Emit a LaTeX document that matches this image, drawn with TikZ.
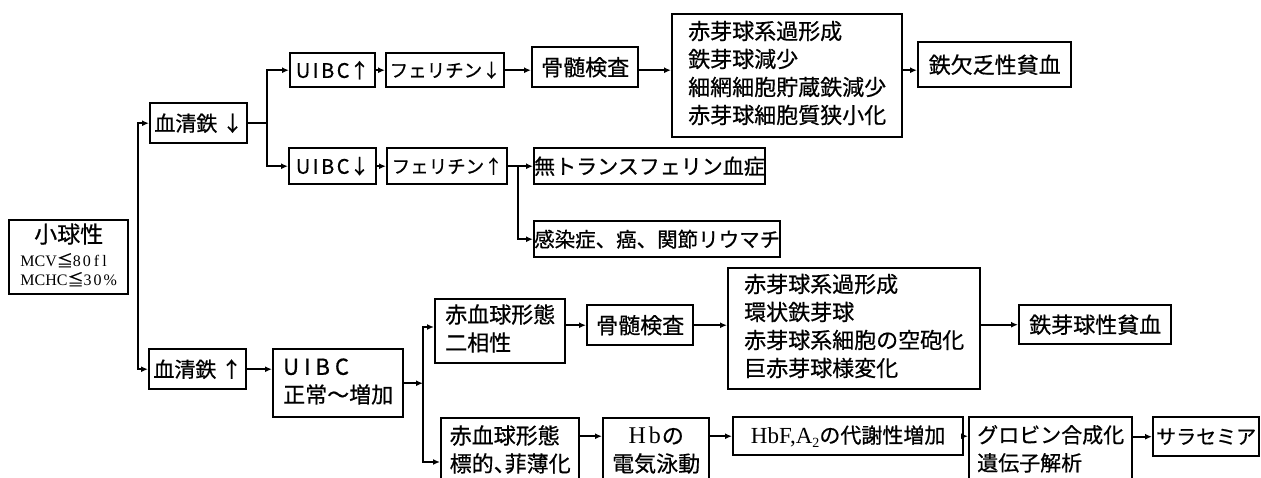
\documentclass[tikz,border=0pt]{standalone}
\usepackage{fontspec}
\newfontfamily\jp[FakeBold=0.6]{Noto Sans CJK JP}
\newfontfamily\se{Liberation Serif}
\usetikzlibrary{arrows.meta}
\newcommand\fsz[1]{\fontsize{#1}{28}\selectfont}
\newcommand\uibc[1]{U\hspace{#1}I\hspace{#1}B\hspace{#1}C}
\newcommand\ntou{\makebox[0.5em][l]{、}}
\begin{document}
\begin{tikzpicture}[x=1pt,y=-1pt,
  bx/.style={draw, line width=2.4pt, anchor=north west, inner sep=0pt, align=center, font=\jp\fsz{22}},
  ln/.style={line width=2pt},
  arr/.style={line width=2pt, -{Latex[length=7pt,width=6pt]}},
]
\useasboundingbox (0,0) rectangle (1261,477);
\clip (0,0) rectangle (1261,477);

\coordinate (xa) at (138,0);
\coordinate (xb) at (267,0);
\coordinate (xc) at (518,0);
\coordinate (xd) at (423,0);
\coordinate (ey) at (0,327);
\coordinate (ty) at (0,462);

% nodes
\node[bx, minimum width=119, minimum height=74] (sho) at (8,219)
  {\fontsize{16}{18}\selectfont\begin{tabular}{@{}l@{}}\multicolumn{1}{@{}c@{}}{\fsz{23}小球性}\\[5pt]
   {\se MCV}≦{\se 8\hspace{2pt}0\hspace{3pt}f\hspace{3pt}l}\\
   {\se MCHC}≦{\se 3\hspace{2pt}0\hspace{2pt}\%}\end{tabular}};
\node[bx, font=\jp\fsz{21}, minimum width=97, minimum height=40] (k1) at (149,102) {血清鉄 ↓};
\node[bx, font=\jp\fsz{20}, minimum width=85, minimum height=34] (u1) at (289,52) {\uibc{2.5pt}↑};
\node[bx, font=\jp\fsz{18.5}, minimum width=118, minimum height=34] (f1) at (385,52) {フェリチン↓};
\node[bx, minimum width=106, minimum height=40] (m1) at (531,46) {骨髄検査};
\node[bx, minimum width=230, minimum height=123] (b1) at (671,13)
  {\raisebox{6pt}{\begin{tabular}{@{}l@{}}赤芽球系過形成\\鉄芽球減少\\細網細胞貯蔵鉄減少\\赤芽球細胞質狭小化\end{tabular}}};
\node[bx, minimum width=153, minimum height=45] (r1) at (917,41) {鉄欠乏性貧血};
\node[bx, font=\jp\fsz{20}, minimum width=87, minimum height=36] (u2) at (288,147) {\uibc{2.5pt}↓};
\node[bx, font=\jp\fsz{18.5}, minimum width=120, minimum height=36] (f2) at (386,147) {フェリチン↑};
\node[bx, font=\jp\fsz{21}, minimum width=222, minimum height=36] (n1) at (533,147) {無トランスフェリン血症};
\node[bx, font=\jp\fsz{20.5}, minimum width=238, minimum height=36] (n2) at (533,220) {感染症、癌、関節リウマチ};
\node[bx, font=\jp\fsz{21}, minimum width=97, minimum height=40] (k2) at (148,348) {血清鉄 ↑};
\node[bx, minimum width=130, minimum height=68] (u3) at (272,348)
  {\begin{tabular}{@{}l@{}}\uibc{5pt}\\正常〜増加\end{tabular}};
\node[bx, minimum width=130, minimum height=64] (e1) at (434,298)
  {\begin{tabular}{@{}l@{}}赤血球形態\\二相性\end{tabular}};
\node[bx, minimum width=106, minimum height=40] (m2) at (586,304) {骨髄検査};
\node[bx, minimum width=252, minimum height=121] (b2) at (727,267)
  {\begin{tabular}{@{}l@{}}赤芽球系過形成\\環状鉄芽球\\赤芽球系細胞の空砲化\\巨赤芽球様変化\end{tabular}};
\node[bx, minimum width=152, minimum height=39] (r2) at (1018,304) {鉄芽球性貧血};
\node[bx, minimum width=138, minimum height=68] (t1) at (440,417)
  {\begin{tabular}{@{}l@{}}赤血球形態\\標的\ntou 菲薄化\end{tabular}};
\node[bx, minimum width=106, minimum height=68] (hb) at (602,417)
  {\begin{tabular}{@{}c@{}}{\se\fontsize{24}{28}\selectfont H\hspace{3pt}b}\hspace{1pt}の\\電気泳動\end{tabular}};
\node[bx, font=\jp\fsz{21}, minimum width=230, minimum height=38] (hbf) at (732,416)
  {{\se\fontsize{23}{28}\selectfont HbF,A\raisebox{-4pt}{\fontsize{14}{14}\selectfont 2}}の代謝性増加};
\node[bx, font=\jp\fsz{21}, minimum width=163, minimum height=68] (g1) at (968,416)
  {\begin{tabular}{@{}l@{}}グロビン合成化\\遺伝子解析\end{tabular}};
\node[bx, font=\jp\fsz{20}, minimum width=106, minimum height=39] (s1) at (1152,416) {サラセミア};

% connectors
\draw[arr] (xa |- k2.west) -- (xa |- k1.west) -- (k1.west);
\draw[arr] (xa |- k1.west) -- (xa |- k2.west) -- (k2.west);

\draw[arr] (k1.east) -| (xb |- u1.west) -- (u1.west);
\draw[arr] (k1.east) -| (xb |- u2.west) -- (u2.west);
\draw[arr] (u1.east) -- (u1.east -| f1.west);
\draw[arr] (f1.east) -- (f1.east -| m1.west);
\draw[arr] (m1.east |- f1.east) -- (b1.west |- f1.east);
\draw[arr] (b1.east |- f1.east) -- (r1.west |- f1.east);

\draw[arr] (u2.east) -- (u2.east -| f2.west);
\draw[arr] (f2.east) -- (f2.east -| n1.west);
\draw[arr] (f2.east) -| (xc |- n2.west) -- (n2.west);

\draw[arr] (k2.east) -- (k2.east -| u3.west);
\draw[arr] (u3.east) -- (u3.east -| xd);
\draw[arr] (xd |- ty) -- (xd |- ey) -- (e1.west |- ey);
\draw[arr] (xd |- ey) -- (xd |- ty) -- (t1.west |- ty);
\draw[arr] (e1.east |- m2.west) -- (m2.west);
\draw[arr] (m2.east) -- (m2.east -| b2.west);
\draw[arr] (b2.east |- r2.west) -- (r2.west);

\draw[arr] (t1.east |- hbf.west) -- (hb.west |- hbf.west);
\draw[arr] (hb.east |- hbf.west) -- (hbf.west);
\draw[arr] (hbf.east) -- (hbf.east -| g1.west);
\draw[arr] (g1.east |- s1.west) -- (s1.west);
\end{tikzpicture}
\end{document}
